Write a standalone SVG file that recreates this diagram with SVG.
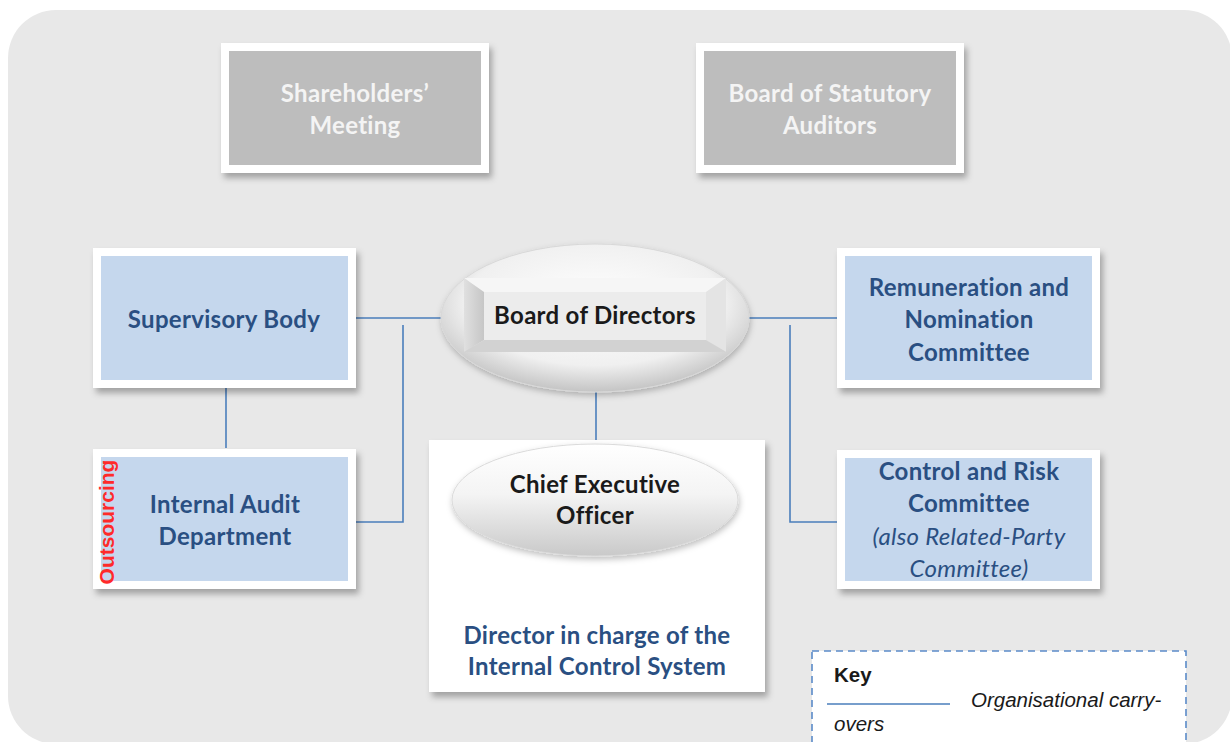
<svg xmlns="http://www.w3.org/2000/svg" width="1230" height="742" viewBox="0 0 1230 742">
<defs>
<filter id="sh" x="-10%" y="-10%" width="125%" height="130%">
<feDropShadow dx="3" dy="5" stdDeviation="3" flood-color="#000" flood-opacity="0.3"/>
</filter>
<filter id="sh2" x="-10%" y="-10%" width="125%" height="130%">
<feDropShadow dx="1" dy="3" stdDeviation="3" flood-color="#000" flood-opacity="0.25"/>
</filter>
<radialGradient id="ell" cx="0.5" cy="0.4" r="0.6">
<stop offset="0" stop-color="#ffffff"/>
<stop offset="0.7" stop-color="#f0f0f0"/>
<stop offset="1" stop-color="#c4c4c4"/>
</radialGradient>
<linearGradient id="ceo" x1="0" y1="0" x2="0" y2="1">
<stop offset="0" stop-color="#ffffff"/>
<stop offset="0.45" stop-color="#f4f4f4"/>
<stop offset="1" stop-color="#c9c9c9"/>
</linearGradient>
<linearGradient id="bevL" x1="0" y1="0" x2="1" y2="0">
<stop offset="0" stop-color="#e0e0e0"/>
<stop offset="1" stop-color="#c6c6c6"/>
</linearGradient>
<style>
.gbox{fill:#bdbdbd;stroke:#ffffff;stroke-width:8}
.bbox{fill:#c5d7ed;stroke:#ffffff;stroke-width:8}
.gt{font-family:Lato,"Open Sans",sans-serif;font-weight:bold;font-size:24px;letter-spacing:0.3px;fill:#f4f4f4;text-anchor:middle}
.bt{font-family:Lato,"Open Sans",sans-serif;font-weight:bold;font-size:24px;letter-spacing:0.3px;fill:#2a4f82;text-anchor:middle}
.bti{font-family:Lato,"Open Sans",sans-serif;font-style:italic;font-size:24px;letter-spacing:0.3px;fill:#2a4f82;text-anchor:middle}
.kt{font-family:Lato,"Open Sans",sans-serif;font-weight:bold;font-size:24px;letter-spacing:0.3px;fill:#1a1a1a;text-anchor:middle}
.conn{stroke:#4a7ebb;stroke-width:1.6;fill:none}
.key{font-family:"Liberation Sans",Arial,sans-serif;font-size:20.5px;fill:#1a1a1a}
</style>
</defs>
<rect x="8" y="10" width="1224" height="734" rx="48" fill="#e8e8e8"/>

<g id="connectors">
<line class="conn" x1="356" y1="318" x2="445" y2="318"/>
<polyline class="conn" points="403,325 403,522 356,522"/>
<line class="conn" x1="226" y1="388" x2="226" y2="448"/>
<line class="conn" x1="746" y1="318" x2="837" y2="318"/>
<polyline class="conn" points="790,325 790,522 837,522"/>
<line class="conn" x1="596" y1="392" x2="596" y2="440"/>
</g>

<g id="shareholders">
<rect class="gbox" x="225" y="47" width="260" height="122" filter="url(#sh)"/>
<text class="gt" x="355" y="102">Shareholders’</text>
<text class="gt" x="355" y="134">Meeting</text>
</g>

<g id="statutory">
<rect class="gbox" x="700" y="47" width="260" height="122" filter="url(#sh)"/>
<text class="gt" x="830" y="102">Board of Statutory</text>
<text class="gt" x="830" y="134">Auditors</text>
</g>

<g id="supervisory">
<rect class="bbox" x="97" y="252" width="255" height="132" filter="url(#sh)"/>
<text class="bt" x="224" y="328">Supervisory Body</text>
</g>

<g id="internal-audit">
<rect class="bbox" x="97" y="453" width="255" height="132" filter="url(#sh)"/>
<text class="bt" x="225" y="513">Internal Audit</text>
<text class="bt" x="225" y="545">Department</text>
<text x="106" y="522" transform="rotate(-90 106 522)" text-anchor="middle" dominant-baseline="central" font-family="'Liberation Sans',Arial,sans-serif" font-weight="bold" font-size="21" fill="#ff2a2a">Outsourcing</text>
</g>

<g id="remuneration">
<rect class="bbox" x="841" y="252" width="255" height="132" filter="url(#sh)"/>
<text class="bt" x="969" y="296">Remuneration and</text>
<text class="bt" x="969" y="328">Nomination</text>
<text class="bt" x="969" y="361">Committee</text>
</g>

<g id="control-risk">
<rect class="bbox" x="841" y="454" width="255" height="131" filter="url(#sh)"/>
<text class="bt" x="969" y="480">Control and Risk</text>
<text class="bt" x="969" y="512">Committee</text>
<text class="bti" x="969" y="545">(also Related-Party</text>
<text class="bti" x="969" y="577">Committee)</text>
</g>

<g id="board-of-directors">
<ellipse cx="595" cy="318" rx="154" ry="74" fill="url(#ell)" stroke="#d8d8d8" stroke-width="1" filter="url(#sh2)"/>
<polygon points="464,278 726,278 706,292 484,292" fill="#f6f6f6"/>
<polygon points="464,278 484,292 484,340 464,352" fill="url(#bevL)"/>
<polygon points="726,278 726,352 706,340 706,292" fill="#e4e4e4"/>
<polygon points="464,352 484,340 706,340 726,352" fill="#d2d2d2"/>
<rect x="484" y="292" width="222" height="48" fill="#ececec"/>
<text class="kt" x="595" y="324">Board of Directors</text>
</g>

<g id="ceo">
<rect x="429" y="440" width="336" height="252" fill="#ffffff" filter="url(#sh)"/>
<ellipse cx="595" cy="500" rx="143" ry="56" fill="url(#ceo)" stroke="#dadada" stroke-width="1" filter="url(#sh2)"/>
<text class="kt" x="595" y="493">Chief Executive</text>
<text class="kt" x="595" y="524">Officer</text>
<text class="bt" x="597" y="644">Director in charge of the</text>
<text class="bt" x="597" y="675">Internal Control System</text>
</g>

<g id="key">
<rect x="812" y="651" width="374" height="110" fill="#ffffff" stroke="#5b8bc9" stroke-width="1.6" stroke-dasharray="7,5"/>
<text class="key" x="834" y="682" font-weight="bold">Key</text>
<line class="conn" x1="827" y1="704" x2="950" y2="704"/>
<text class="key" x="971" y="707" font-style="italic">Organisational carry-</text>
<text class="key" x="834" y="731" font-style="italic">overs</text>
</g>
</svg>
